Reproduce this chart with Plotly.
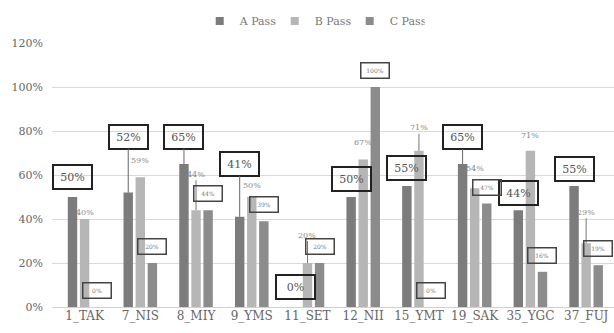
import plotly.graph_objects as go

# pass rates (%) per site
sites = ["1_TAK", "7_NIS", "8_MIY", "9_YMS", "11_SET",
         "12_NII", "15_YMT", "19_SAK", "35_YGC", "37_FUJ"]
a_pass = [50, 52, 65, 41, 0, 50, 55, 65, 44, 55]
b_pass = [40, 59, 44, 50, 20, 67, 71, 54, 71, 29]
c_pass = [0, 20, 44, 39, 20, 100, 0, 47, 16, 19]
y_ticks = [0, 20, 40, 60, 80, 100, 120]
y_tick_text = ["0%", "20%", "40%", "60%", "80%", "100%", "120%"]
series_names = ["A Pass", "B Pass", "C Pass"]

# styling
colors = ["#7c7c7c", "#b6b6b6", "#8c8c8c"]
FONT = "DejaVu Serif"
BARGAP = 0.35
SLOT = (1 - BARGAP) / 3  # offset of each bar from the category centre, in category units

# label placement: pixels from bar top to label centre, and whether a leader line is drawn
a_lift = [20, 56, 27.5, 53, 20, 18.5, 18.5, 27, 17.5, 17.5]
a_leader = [False, True, True, True, False, False, False, True, False, False]
b_lift = [7, 17, 36, 12, 28, 17, 23, 20, 15, 31]
b_leader = [False, False, True, False, True, False, True, False, False, True]
c_lift = 16.5

fig = go.Figure()
for name, vals, col in zip(series_names, [a_pass, b_pass, c_pass], colors):
    fig.add_trace(go.Bar(x=sites, y=vals, name=name, marker_color=col,
                         marker_line_width=0, showlegend=False))
    # small square legend swatch
    fig.add_trace(go.Scatter(x=[None], y=[None], mode="markers", name=name,
                             marker=dict(symbol="square", size=8, color=col)))

annotations = []
# A: heavy framed boxes
for i, v in enumerate(a_pass):
    ann = dict(x=i - SLOT, y=v, xref="x", yref="y", text=f"{v}%",
               font=dict(family=FONT, size=11, color="#555"),
               bordercolor="#222", borderwidth=2, borderpad=3,
               width=31, height=16, align="center")
    if a_leader[i]:
        ann.update(showarrow=True, ax=0, ay=-a_lift[i], arrowhead=0,
                   arrowwidth=1, arrowcolor="#666", standoff=0)
    else:
        ann.update(showarrow=False, yshift=a_lift[i])
    annotations.append(ann)

# B: plain small text
for i, v in enumerate(b_pass):
    ann = dict(x=i, y=v, xref="x", yref="y", text=f"{v}%",
               font=dict(family=FONT, size=8, color="#888"))
    if b_leader[i]:
        ann.update(showarrow=True, ax=0, ay=-b_lift[i], arrowhead=0,
                   arrowwidth=1, arrowcolor="#777", standoff=0)
    else:
        ann.update(showarrow=False, yshift=b_lift[i])
    annotations.append(ann)

# C: thin framed boxes
for i, v in enumerate(c_pass):
    annotations.append(dict(x=i + SLOT, y=v, xref="x", yref="y", text=f"{v}%",
                            showarrow=False, yshift=c_lift,
                            font=dict(family=FONT, size=6, color="#777"),
                            bordercolor="#444", borderwidth=1.5, borderpad=1,
                            width=25, height=12, align="center"))

fig.update_layout(
    width=614, height=333,
    margin=dict(l=52, r=0, t=43, b=26),
    paper_bgcolor="white", plot_bgcolor="white",
    barmode="group", bargap=BARGAP, bargroupgap=0.22,
    font=dict(family=FONT, color="#666"),
    legend=dict(orientation="h", x=0.463, xanchor="center", y=1.083,
                yanchor="middle", font=dict(family=FONT, size=11, color="#777"),
                itemwidth=30, entrywidth=30, bgcolor="rgba(0,0,0,0)"),
    annotations=annotations,
)
fig.update_xaxes(showgrid=False, showline=False, ticks="",
                 tickfont=dict(family=FONT, size=12, color="#666"))
fig.update_yaxes(range=[0, 120], tickmode="array", tickvals=y_ticks,
                 ticktext=y_tick_text,
                 showgrid=True, gridcolor="#d9d9d9", gridwidth=1,
                 zeroline=True, zerolinecolor="#d0d0d0", zerolinewidth=1,
                 showline=False, ticks="", ticklabelstandoff=8,
                 tickfont=dict(family=FONT, size=11, color="#666"))

fig.write_html("out.html")
